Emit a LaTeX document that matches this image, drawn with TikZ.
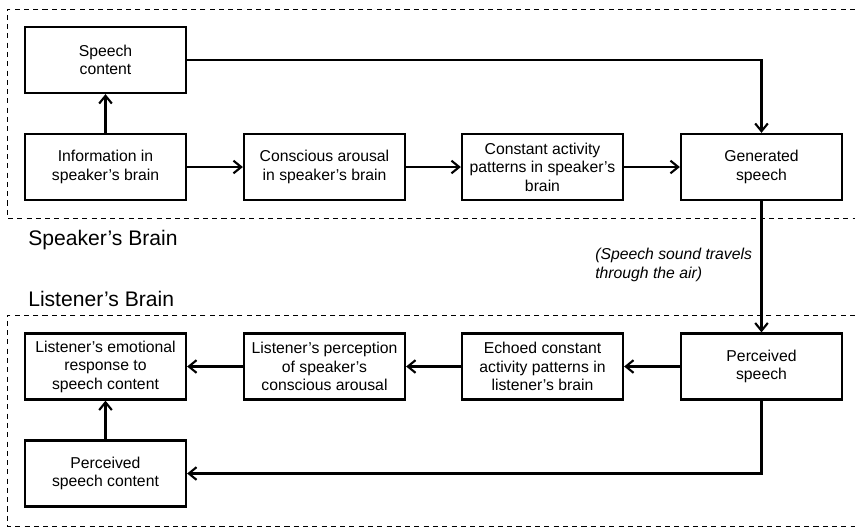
\documentclass[tikz,border=0pt]{standalone}
\usepackage{fontspec}
\setmainfont{Liberation Sans}
\usetikzlibrary{arrows.meta,positioning}
\tikzset{
  stepbox/.style={rectangle,draw=black,line width=1.6pt,
                  minimum width=4.025cm,minimum height=1.65cm,inner sep=2pt,
                  align=center,font=\fontsize{11.2}{13.2}\selectfont},
  link/.style={draw=black,line width=1.5pt,
               -{Straight Barb[length=5.5pt,width=9pt,line width=1.5pt]}},
  brainframe/.style={line width=0.7pt,dash pattern=on 3.6pt off 3pt},
  grouplabel/.style={anchor=base west,inner sep=0pt,
                     font=\fontsize{15}{18}\selectfont},
}

\begin{document}
\begin{tikzpicture}[x=0.025cm,y=-0.025cm]

  \useasboundingbox (0,0) rectangle (855,527);

  % speaker and listener regions (right side runs off the page)
  \draw[brainframe] (855,9) -- (7,9) -- (7,218) -- (855,218);
  \draw[brainframe] (855,315) -- (7,315) -- (7,526) -- (855,526);

  \node[grouplabel] (spk) at (28,245) {Speaker’s Brain};
  \node[grouplabel] (lst) at (28,306) {Listener’s Brain};

  % speaker side
  \node[stepbox] (content) at (105.5,60)  {Speech\\content};
  \node[stepbox] (info)    at (105.5,167) {Information in\\speaker’s brain};
  \node[stepbox] (arousal) at (324.5,167) {Conscious arousal\\in speaker’s brain};
  \node[stepbox] (pattern) at (542.5,167) {Constant activity\\patterns in speaker’s\\brain};
  \node[stepbox] (gen)     at (761.5,167) {Generated\\speech};

  % listener side
  \node[stepbox] (perc)  at (761.5,366.5) {Perceived\\speech};
  \node[stepbox] (echo)  at (542.5,366.5) {Echoed constant\\activity patterns in\\listener’s brain};
  \node[stepbox] (lperc) at (324.5,366.5) {Listener’s perception\\of speaker’s\\conscious arousal};
  \node[stepbox] (emot)  at (105.5,366.5) {Listener’s emotional\\response to\\speech content};
  \node[stepbox] (pcont) at (105.5,473.5) {Perceived\\speech content};

  \node[anchor=west,inner sep=0pt,align=left,
        font=\fontsize{11.2}{13.2}\selectfont\itshape]
    (air) at (595,265) {(Speech sound travels\\through the air)};

  \draw[link] (info)    -- (content);
  \draw[link] (info)    -- (arousal);
  \draw[link] (arousal) -- (pattern);
  \draw[link] (pattern) -- (gen);
  \draw[link] (content.east) -| (gen.north);
  \draw[link] (gen)     -- (perc);

  \draw[link] (perc)  -- (echo);
  \draw[link] (echo)  -- (lperc);
  \draw[link] (lperc) -- (emot);
  \draw[link] (pcont) -- (emot);
  \draw[link] (perc.south) |- (pcont.east);

\end{tikzpicture}
\end{document}
